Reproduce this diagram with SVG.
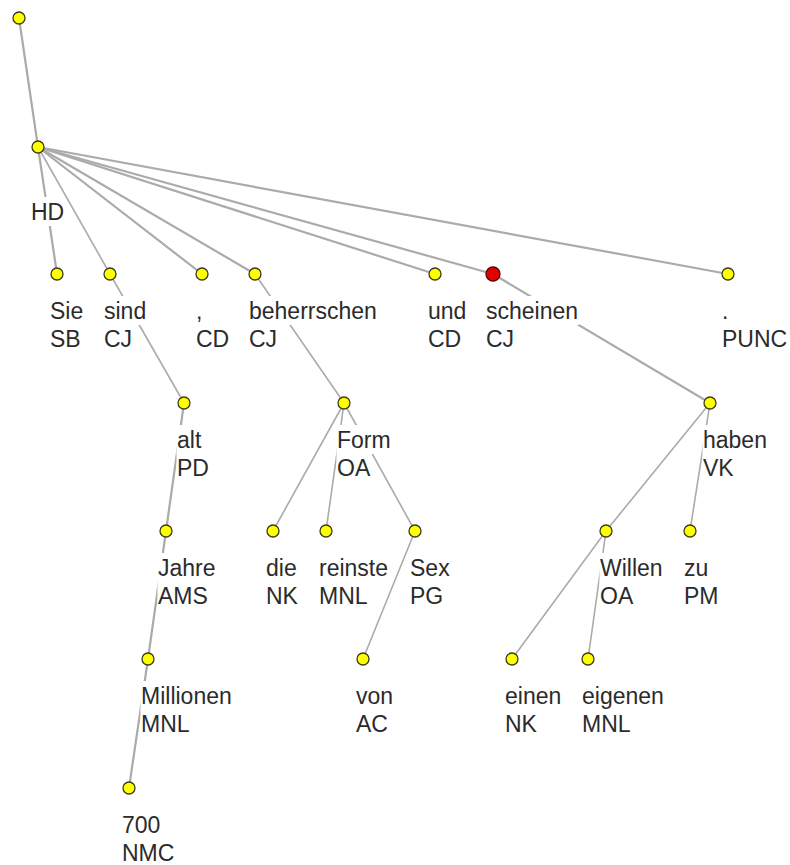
<svg xmlns="http://www.w3.org/2000/svg" width="790" height="865" viewBox="0 0 790 865">
<style>
.edge{stroke:#ababab;stroke-width:2.2;fill:none;stroke-linecap:round}
.thin{stroke-width:1.6}
.nd{fill:#ffff00;stroke:#3a3a20;stroke-width:1.3}
.red{fill:#e30000;stroke:#5a0000;stroke-width:1.3}
.bg{fill:#ffffff}
.t{font-family:"Liberation Sans",Arial,sans-serif;font-size:23px;fill:#2b2b2b}
</style>
<rect width="790" height="865" fill="#ffffff"/>
<g id="connectors">
<line class="edge" x1="19" y1="18" x2="38" y2="147"/>
<line class="edge" x1="38" y1="147" x2="57" y2="274"/>
<line class="edge thin" x1="38" y1="147" x2="110" y2="274"/>
<line class="edge" x1="38" y1="147" x2="202" y2="274"/>
<line class="edge" x1="38" y1="147" x2="255" y2="274"/>
<line class="edge" x1="38" y1="147" x2="435" y2="274"/>
<line class="edge" x1="38" y1="147" x2="493" y2="274"/>
<line class="edge" x1="38" y1="147" x2="728" y2="274"/>
<line class="edge thin" x1="110" y1="274" x2="184" y2="403"/>
<line class="edge" x1="184" y1="403" x2="166" y2="531"/>
<line class="edge" x1="166" y1="531" x2="148" y2="659"/>
<line class="edge" x1="148" y1="659" x2="129" y2="788"/>
<line class="edge thin" x1="255" y1="274" x2="344" y2="403"/>
<line class="edge thin" x1="344" y1="403" x2="273" y2="531"/>
<line class="edge thin" x1="344" y1="403" x2="326" y2="531"/>
<line class="edge thin" x1="344" y1="403" x2="415" y2="531"/>
<line class="edge thin" x1="415" y1="531" x2="363" y2="659"/>
<line class="edge" x1="493" y1="274" x2="710" y2="403"/>
<line class="edge thin" x1="710" y1="403" x2="606" y2="531"/>
<line class="edge thin" x1="710" y1="403" x2="690" y2="531"/>
<line class="edge thin" x1="606" y1="531" x2="512" y2="659"/>
<line class="edge thin" x1="606" y1="531" x2="588" y2="659"/>
</g>
<g id="n-root"><circle class="nd" cx="19" cy="18" r="6"/></g>
<g id="n-top">
<circle class="nd" cx="38" cy="147" r="6"/>
<rect class="bg" x="30.5" y="197" width="34" height="29"/>
<text class="t" x="31" y="220">HD</text>
</g>
<g id="n-sie">
<circle class="nd" cx="57" cy="274" r="6"/>
<rect class="bg" x="49.5" y="296" width="35" height="29"/><rect class="bg" x="49.5" y="324" width="32.5" height="29"/>
<text class="t" x="50" y="319">Sie</text><text class="t" x="50" y="347">SB</text>
</g>
<g id="n-sind">
<circle class="nd" cx="110" cy="274" r="6"/>
<rect class="bg" x="103.5" y="296" width="44" height="29"/><rect class="bg" x="103.5" y="324" width="30" height="29"/>
<text class="t" x="104" y="319">sind</text><text class="t" x="104" y="347">CJ</text>
</g>
<g id="n-comma">
<circle class="nd" cx="202" cy="274" r="6"/>
<rect class="bg" x="195.5" y="296" width="8" height="29"/><rect class="bg" x="195.5" y="324" width="35" height="29"/>
<text class="t" x="196" y="319">,</text><text class="t" x="196" y="347">CD</text>
</g>
<g id="n-beherrschen">
<circle class="nd" cx="255" cy="274" r="6"/>
<rect class="bg" x="248.5" y="296" width="129.5" height="29"/><rect class="bg" x="248.5" y="324" width="30" height="29"/>
<text class="t" x="249" y="319">beherrschen</text><text class="t" x="249" y="347">CJ</text>
</g>
<g id="n-und">
<circle class="nd" cx="435" cy="274" r="6"/>
<rect class="bg" x="427.5" y="296" width="40" height="29"/><rect class="bg" x="427.5" y="324" width="35" height="29"/>
<text class="t" x="428" y="319">und</text><text class="t" x="428" y="347">CD</text>
</g>
<g id="n-scheinen">
<circle class="red" cx="493" cy="274" r="7"/>
<rect class="bg" x="485.5" y="296" width="93.5" height="29"/><rect class="bg" x="485.5" y="324" width="30" height="29"/>
<text class="t" x="486" y="319">scheinen</text><text class="t" x="486" y="347">CJ</text>
</g>
<g id="n-period">
<circle class="nd" cx="728" cy="274" r="6"/>
<rect class="bg" x="721.5" y="296" width="8" height="29"/><rect class="bg" x="721.5" y="324" width="67" height="29"/>
<text class="t" x="722" y="319">.</text><text class="t" x="722" y="347">PUNC</text>
</g>
<g id="n-alt">
<circle class="nd" cx="184" cy="403" r="6"/>
<rect class="bg" x="176.5" y="425" width="26" height="29"/><rect class="bg" x="176.5" y="453" width="33.5" height="29"/>
<text class="t" x="177" y="448">alt</text><text class="t" x="177" y="476">PD</text>
</g>
<g id="n-form">
<circle class="nd" cx="344" cy="403" r="6"/>
<rect class="bg" x="336.5" y="425" width="55" height="29"/><rect class="bg" x="336.5" y="453" width="35" height="29"/>
<text class="t" x="337" y="448">Form</text><text class="t" x="337" y="476">OA</text>
</g>
<g id="n-haben">
<circle class="nd" cx="710" cy="403" r="6"/>
<rect class="bg" x="702.5" y="425" width="65.5" height="29"/><rect class="bg" x="702.5" y="453" width="32" height="29"/>
<text class="t" x="703" y="448">haben</text><text class="t" x="703" y="476">VK</text>
</g>
<g id="n-jahre">
<circle class="nd" cx="166" cy="531" r="6"/>
<rect class="bg" x="157.5" y="553" width="59" height="29"/><rect class="bg" x="157.5" y="581" width="51.5" height="29"/>
<text class="t" x="158" y="576">Jahre</text><text class="t" x="158" y="604">AMS</text>
</g>
<g id="n-die">
<circle class="nd" cx="273" cy="531" r="6"/>
<rect class="bg" x="265.5" y="553" width="32" height="29"/><rect class="bg" x="265.5" y="581" width="33.5" height="29"/>
<text class="t" x="266" y="576">die</text><text class="t" x="266" y="604">NK</text>
</g>
<g id="n-reinste">
<circle class="nd" cx="326" cy="531" r="6"/>
<rect class="bg" x="318.5" y="553" width="70.5" height="29"/><rect class="bg" x="318.5" y="581" width="50" height="29"/>
<text class="t" x="319" y="576">reinste</text><text class="t" x="319" y="604">MNL</text>
</g>
<g id="n-sex">
<circle class="nd" cx="415" cy="531" r="6"/>
<rect class="bg" x="409.5" y="553" width="41" height="29"/><rect class="bg" x="409.5" y="581" width="35" height="29"/>
<text class="t" x="410" y="576">Sex</text><text class="t" x="410" y="604">PG</text>
</g>
<g id="n-willen">
<circle class="nd" cx="606" cy="531" r="6"/>
<rect class="bg" x="599.5" y="553" width="64" height="29"/><rect class="bg" x="599.5" y="581" width="35" height="29"/>
<text class="t" x="600" y="576">Willen</text><text class="t" x="600" y="604">OA</text>
</g>
<g id="n-zu">
<circle class="nd" cx="690" cy="531" r="6"/>
<rect class="bg" x="683.5" y="553" width="26" height="29"/><rect class="bg" x="683.5" y="581" width="36" height="29"/>
<text class="t" x="684" y="576">zu</text><text class="t" x="684" y="604">PM</text>
</g>
<g id="n-millionen">
<circle class="nd" cx="148" cy="659" r="6"/>
<rect class="bg" x="140.5" y="681" width="92" height="29"/><rect class="bg" x="140.5" y="709" width="50" height="29"/>
<text class="t" x="141" y="704">Millionen</text><text class="t" x="141" y="732">MNL</text>
</g>
<g id="n-von">
<circle class="nd" cx="363" cy="659" r="6"/>
<rect class="bg" x="355.5" y="681" width="38.5" height="29"/><rect class="bg" x="355.5" y="709" width="33.5" height="29"/>
<text class="t" x="356" y="704">von</text><text class="t" x="356" y="732">AC</text>
</g>
<g id="n-einen">
<circle class="nd" cx="512" cy="659" r="6"/>
<rect class="bg" x="504.5" y="681" width="58" height="29"/><rect class="bg" x="504.5" y="709" width="33.5" height="29"/>
<text class="t" x="505" y="704">einen</text><text class="t" x="505" y="732">NK</text>
</g>
<g id="n-eigenen">
<circle class="nd" cx="588" cy="659" r="6"/>
<rect class="bg" x="581.5" y="681" width="83.5" height="29"/><rect class="bg" x="581.5" y="709" width="50" height="29"/>
<text class="t" x="582" y="704">eigenen</text><text class="t" x="582" y="732">MNL</text>
</g>
<g id="n-700">
<circle class="nd" cx="129" cy="788" r="6"/>
<rect class="bg" x="121.5" y="810" width="40" height="29"/><rect class="bg" x="121.5" y="838" width="54" height="27"/>
<text class="t" x="122" y="833">700</text><text class="t" x="122" y="861">NMC</text>
</g>
</svg>
